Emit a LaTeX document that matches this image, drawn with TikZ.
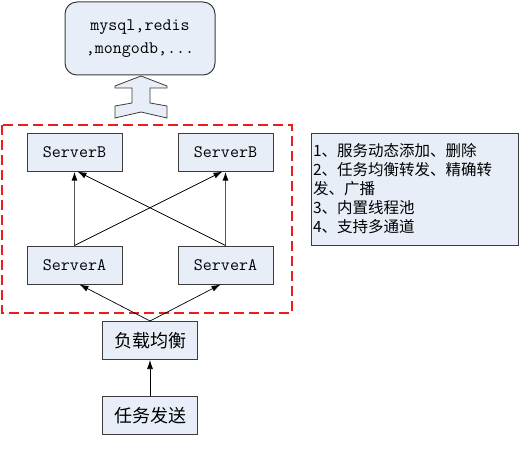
\documentclass[tikz,border=0pt]{standalone}
\usepackage{fontspec}
\usepackage{tikz}
\usetikzlibrary{arrows.meta}
\newfontfamily\cjk{Noto Sans CJK SC}
\definecolor{boxfill}{RGB}{232,238,247}
\definecolor{boxline}{RGB}{60,60,60}
\definecolor{dashred}{RGB}{235,30,30}
\definecolor{upgray}{RGB}{85,85,85}

\tikzset{
	srvbox/.style={draw=boxline, line width=1pt, fill=boxfill, minimum width=95pt, minimum height=38pt, inner sep=0pt, font=\ttfamily\fontsize{17.5}{20}\selectfont},
	cnbox/.style={srvbox, font=\cjk\fontsize{18}{20}\selectfont},
	link/.style={-{Latex[length=9pt,width=6pt,black]}, line width=0.7pt, black},
	uplink/.style={link, line width=1.4pt, draw=upgray}
}

\begin{document}
\begin{tikzpicture}[x=1pt,y=-1pt]
	\useasboundingbox (0,0) rectangle (530,460);
	% storage
	\node[draw=boxline, line width=1pt, fill=boxfill, rounded corners=12pt, minimum width=150pt, minimum height=73pt, align=center, font=\ttfamily\fontsize{17.5}{23}\selectfont] (db) at (140,38.5) {mysql,redis\\,mongodb,...};
	\draw[draw=boxline, line width=0.8pt, fill=boxfill] (141,76) -- (115,86) -- (115,88) -- (132,88) -- (132,103) -- (115,106) -- (115,118) -- (141,112) -- (167,118) -- (167,106) -- (150,103) -- (150,88) -- (167,88) -- (167,86) -- cycle;
	% cluster
	\draw[dashred, line width=1.6pt, dash pattern=on 10pt off 5pt] (2,125) rectangle (292,313);
	\node[srvbox] (sb1) at (74.5,152) {ServerB};
	\node[srvbox] (sb2) at (225.5,152) {ServerB};
	\node[srvbox] (sa1) at (74.5,265) {ServerA};
	\node[srvbox] (sa2) at (225.5,265) {ServerA};
	\node[cnbox] (lb) at (150,340.5) {负载均衡};
	\node[cnbox] (send) at (150,415.5) {任务发送};
	% features
	\node[draw=boxline, line width=1pt, fill=boxfill, minimum width=207pt, minimum height=112pt, text width=203pt, inner xsep=2pt, align=left, font=\cjk\fontsize{15.5}{19}\selectfont] (info) at (414.5,189) {1、服务动态添加、删除\\2、任务均衡转发、精确转\\发、广播\\3、内置线程池\\4、支持多通道};
	% links
	\draw[uplink] (sa1.north) -- (sb1.south);
	\draw[uplink] (sa2.north) -- (sb2.south);
	\draw[link] (sa1.north) -- ([xshift=-3pt]sb2.south);
	\draw[link] (sa2.north) -- ([xshift=3pt]sb1.south);
	\draw[link] (lb.north) -- ([xshift=5pt]sa1.south);
	\draw[link] (lb.north) -- ([xshift=-5pt]sa2.south);
	\draw[link] (send.north) -- (lb.south);
\end{tikzpicture}
\end{document}
